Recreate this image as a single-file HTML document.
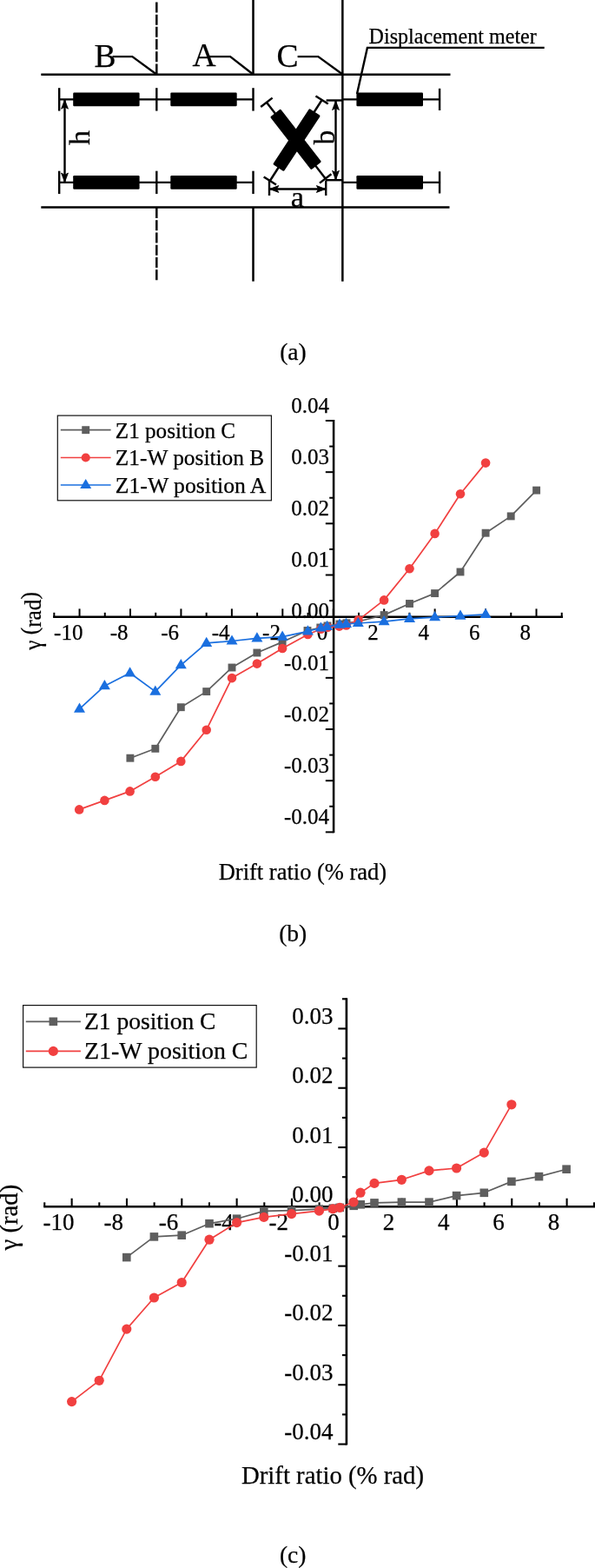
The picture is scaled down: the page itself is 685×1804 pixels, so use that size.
<!DOCTYPE html>
<html lang="en"><head><meta charset="utf-8"><title>Figure</title>
<style>html,body{margin:0;padding:0;background:#fff}svg{display:block}</style></head>
<body>
<svg width="685" height="1804" viewBox="0 0 685 1804" font-family="Liberation Serif, serif" fill="#000">
<style>text{stroke:#000;stroke-width:0.25px}</style>
<rect width="685" height="1804" fill="#fff"/>
<g id="diagram-a" stroke-linecap="butt">
<line x1="47.30" y1="85.80" x2="518.50" y2="85.80" stroke="#000" stroke-width="2.5" />
<line x1="47.30" y1="238.60" x2="517.50" y2="238.60" stroke="#000" stroke-width="2.5" />
<line x1="180.3" y1="2.4" x2="180.3" y2="85.8" stroke="#000" stroke-width="2.5" stroke-dasharray="12 2.23"/>
<line x1="180.3" y1="239" x2="180.3" y2="323.7" stroke="#000" stroke-width="2.5" stroke-dasharray="12 2.23"/>
<line x1="291.50" y1="0.00" x2="291.50" y2="86.00" stroke="#000" stroke-width="2.5" />
<line x1="291.50" y1="238.00" x2="291.50" y2="323.70" stroke="#000" stroke-width="2.5" />
<line x1="394.35" y1="0.00" x2="394.35" y2="323.70" stroke="#000" stroke-width="2.5" />
<line x1="68.20" y1="101.20" x2="68.20" y2="127.60" stroke="#000" stroke-width="2.4" />
<line x1="68.20" y1="114.40" x2="180.30" y2="114.40" stroke="#000" stroke-width="2.4" />
<rect x="84.2" y="106.60" width="76.4" height="15.7" rx="1.2" fill="#000"/>
<line x1="180.30" y1="101.20" x2="180.30" y2="127.60" stroke="#000" stroke-width="2.4" />
<line x1="180.30" y1="114.40" x2="291.50" y2="114.40" stroke="#000" stroke-width="2.4" />
<rect x="196.3" y="106.60" width="76.4" height="15.7" rx="1.2" fill="#000"/>
<line x1="291.50" y1="101.20" x2="291.50" y2="127.60" stroke="#000" stroke-width="2.4" />
<line x1="394.50" y1="114.40" x2="506.00" y2="114.40" stroke="#000" stroke-width="2.4" />
<rect x="410.4" y="106.60" width="76.6" height="15.7" rx="1.2" fill="#000"/>
<line x1="506.10" y1="101.80" x2="506.10" y2="127.00" stroke="#000" stroke-width="2.4" />
<line x1="68.20" y1="196.70" x2="68.20" y2="223.10" stroke="#000" stroke-width="2.4" />
<line x1="68.20" y1="209.90" x2="180.30" y2="209.90" stroke="#000" stroke-width="2.4" />
<rect x="84.2" y="202.10" width="76.4" height="15.7" rx="1.2" fill="#000"/>
<line x1="180.30" y1="196.70" x2="180.30" y2="223.10" stroke="#000" stroke-width="2.4" />
<line x1="180.30" y1="209.90" x2="291.50" y2="209.90" stroke="#000" stroke-width="2.4" />
<rect x="196.3" y="202.10" width="76.4" height="15.7" rx="1.2" fill="#000"/>
<line x1="291.50" y1="196.70" x2="291.50" y2="223.10" stroke="#000" stroke-width="2.4" />
<line x1="394.50" y1="209.90" x2="506.00" y2="209.90" stroke="#000" stroke-width="2.4" />
<rect x="410.4" y="202.10" width="76.6" height="15.7" rx="1.2" fill="#000"/>
<line x1="506.10" y1="197.30" x2="506.10" y2="222.50" stroke="#000" stroke-width="2.4" />
<line x1="74.50" y1="114.40" x2="74.50" y2="209.90" stroke="#000" stroke-width="2.4" />
<polygon points="74.50,114.90 70.60,125.20 74.50,122.90 78.40,125.20" fill="#000" stroke="#000" stroke-width="0.9" stroke-linejoin="miter"/>
<polygon points="74.50,209.40 70.60,199.10 74.50,201.40 78.40,199.10" fill="#000" stroke="#000" stroke-width="0.9" stroke-linejoin="miter"/>
<text transform="translate(102.6,158.6) rotate(-90)" font-size="34" text-anchor="middle">h</text>
<text x="108.40" y="76.50" font-size="37.5" text-anchor="start" >B</text>
<text x="221.60" y="76.30" font-size="37.5" text-anchor="start" >A</text>
<text x="318.60" y="76.60" font-size="37.5" text-anchor="start" >C</text>
<polyline points="129.5,65.1 152.3,65.1 179.8,85.3" fill="none" stroke="#000" stroke-width="2.4"/>
<polyline points="238.5,65.1 265.1,65.1 291,85.3" fill="none" stroke="#000" stroke-width="2.4"/>
<polyline points="342.6,65.1 366.3,65.1 394,85.3" fill="none" stroke="#000" stroke-width="2.4"/>
<text x="424.60" y="49.70" font-size="25" text-anchor="start" textLength="193.2" lengthAdjust="spacingAndGlyphs" >Displacement meter</text>
<polyline points="626.7,54.9 422.9,54.9 411,108" fill="none" stroke="#000" stroke-width="2.4"/>
<line x1="306.90" y1="117.80" x2="374.70" y2="205.40" stroke="#000" stroke-width="2.4" />
<rect x="302.03" y="152.80" width="77.03" height="15.2" rx="1.5" fill="#000" transform="rotate(52.12 340.55 160.40)"/>
<line x1="313.62" y1="112.60" x2="300.18" y2="123.00" stroke="#000" stroke-width="2.4" />
<line x1="381.42" y1="200.20" x2="367.98" y2="210.60" stroke="#000" stroke-width="2.4" />
<line x1="370.60" y1="115.00" x2="310.80" y2="208.00" stroke="#000" stroke-width="2.4" />
<rect x="303.13" y="153.45" width="76.74" height="15.2" rx="1.5" fill="#000" transform="rotate(123.36 341.50 161.05)"/>
<line x1="377.75" y1="119.60" x2="363.45" y2="110.40" stroke="#000" stroke-width="2.4" />
<line x1="317.95" y1="212.60" x2="303.65" y2="203.40" stroke="#000" stroke-width="2.4" />
<line x1="310.00" y1="217.50" x2="375.20" y2="217.50" stroke="#000" stroke-width="2.4" />
<line x1="310.00" y1="207.60" x2="310.00" y2="225.00" stroke="#000" stroke-width="2.4" />
<line x1="375.20" y1="207.60" x2="375.20" y2="225.00" stroke="#000" stroke-width="2.4" />
<polygon points="310.50,217.50 320.80,213.60 318.50,217.50 320.80,221.40" fill="#000" stroke="#000" stroke-width="0.9" stroke-linejoin="miter"/>
<polygon points="374.70,217.50 364.40,213.60 366.70,217.50 364.40,221.40" fill="#000" stroke="#000" stroke-width="0.9" stroke-linejoin="miter"/>
<text x="342.40" y="237.90" font-size="34.5" text-anchor="middle" >a</text>
<line x1="386.50" y1="115.70" x2="386.50" y2="207.20" stroke="#000" stroke-width="2.4" />
<polygon points="386.50,116.20 382.60,126.50 386.50,124.20 390.40,126.50" fill="#000" stroke="#000" stroke-width="0.9" stroke-linejoin="miter"/>
<polygon points="386.50,206.70 382.60,196.40 386.50,198.70 390.40,196.40" fill="#000" stroke="#000" stroke-width="0.9" stroke-linejoin="miter"/>
<line x1="375.60" y1="115.50" x2="394.50" y2="115.50" stroke="#000" stroke-width="2.4" />
<line x1="375.00" y1="207.20" x2="394.50" y2="207.20" stroke="#000" stroke-width="2.4" />
<text transform="translate(385.4,158) rotate(-90)" font-size="33" text-anchor="middle">b</text>
</g>
<text x="337.40" y="413.80" font-size="27.5" text-anchor="middle" >(a)</text>
<g id="chart-b">
<text x="78.75" y="735.60" font-size="25" text-anchor="middle" >-10</text>
<text x="137.19" y="735.60" font-size="25" text-anchor="middle" >-8</text>
<text x="195.63" y="735.60" font-size="25" text-anchor="middle" >-6</text>
<text x="254.07" y="735.60" font-size="25" text-anchor="middle" >-4</text>
<text x="312.51" y="735.60" font-size="25" text-anchor="middle" >-2</text>
<text x="370.95" y="735.60" font-size="25" text-anchor="middle" >0</text>
<text x="429.39" y="735.60" font-size="25" text-anchor="middle" >2</text>
<text x="487.83" y="735.60" font-size="25" text-anchor="middle" >4</text>
<text x="546.27" y="735.60" font-size="25" text-anchor="middle" >6</text>
<text x="604.71" y="735.60" font-size="25" text-anchor="middle" >8</text>
<text x="379.10" y="948.16" font-size="25" text-anchor="end" >-0.04</text>
<text x="379.10" y="888.99" font-size="25" text-anchor="end" >-0.03</text>
<text x="379.10" y="829.82" font-size="25" text-anchor="end" >-0.02</text>
<text x="379.10" y="770.65" font-size="25" text-anchor="end" >-0.01</text>
<text x="379.10" y="711.48" font-size="25" text-anchor="end" >0.00</text>
<text x="379.10" y="652.31" font-size="25" text-anchor="end" >0.01</text>
<text x="379.10" y="593.14" font-size="25" text-anchor="end" >0.02</text>
<text x="379.10" y="533.97" font-size="25" text-anchor="end" >0.03</text>
<text x="379.10" y="474.80" font-size="25" text-anchor="end" >0.04</text>
<line x1="61.10" y1="709.70" x2="648.00" y2="709.70" stroke="#000" stroke-width="2.5" />
<line x1="62.33" y1="709.70" x2="62.33" y2="704.80" stroke="#000" stroke-width="2.0" />
<line x1="91.55" y1="709.70" x2="91.55" y2="700.40" stroke="#000" stroke-width="2.0" />
<line x1="120.77" y1="709.70" x2="120.77" y2="704.80" stroke="#000" stroke-width="2.0" />
<line x1="149.99" y1="709.70" x2="149.99" y2="700.40" stroke="#000" stroke-width="2.0" />
<line x1="179.21" y1="709.70" x2="179.21" y2="704.80" stroke="#000" stroke-width="2.0" />
<line x1="208.43" y1="709.70" x2="208.43" y2="700.40" stroke="#000" stroke-width="2.0" />
<line x1="237.65" y1="709.70" x2="237.65" y2="704.80" stroke="#000" stroke-width="2.0" />
<line x1="266.87" y1="709.70" x2="266.87" y2="700.40" stroke="#000" stroke-width="2.0" />
<line x1="296.09" y1="709.70" x2="296.09" y2="704.80" stroke="#000" stroke-width="2.0" />
<line x1="325.31" y1="709.70" x2="325.31" y2="700.40" stroke="#000" stroke-width="2.0" />
<line x1="354.53" y1="709.70" x2="354.53" y2="704.80" stroke="#000" stroke-width="2.0" />
<line x1="383.75" y1="709.70" x2="383.75" y2="700.40" stroke="#000" stroke-width="2.0" />
<line x1="412.97" y1="709.70" x2="412.97" y2="704.80" stroke="#000" stroke-width="2.0" />
<line x1="442.19" y1="709.70" x2="442.19" y2="700.40" stroke="#000" stroke-width="2.0" />
<line x1="471.41" y1="709.70" x2="471.41" y2="704.80" stroke="#000" stroke-width="2.0" />
<line x1="500.63" y1="709.70" x2="500.63" y2="700.40" stroke="#000" stroke-width="2.0" />
<line x1="529.85" y1="709.70" x2="529.85" y2="704.80" stroke="#000" stroke-width="2.0" />
<line x1="559.07" y1="709.70" x2="559.07" y2="700.40" stroke="#000" stroke-width="2.0" />
<line x1="588.29" y1="709.70" x2="588.29" y2="704.80" stroke="#000" stroke-width="2.0" />
<line x1="617.51" y1="709.70" x2="617.51" y2="700.40" stroke="#000" stroke-width="2.0" />
<line x1="646.73" y1="709.70" x2="646.73" y2="704.80" stroke="#000" stroke-width="2.0" />
<line x1="384.10" y1="483.00" x2="384.10" y2="958.36" stroke="#000" stroke-width="2.5" />
<line x1="384.10" y1="957.36" x2="374.80" y2="957.36" stroke="#000" stroke-width="2.0" />
<line x1="384.10" y1="927.77" x2="379.20" y2="927.77" stroke="#000" stroke-width="2.0" />
<line x1="384.10" y1="898.19" x2="374.80" y2="898.19" stroke="#000" stroke-width="2.0" />
<line x1="384.10" y1="868.61" x2="379.20" y2="868.61" stroke="#000" stroke-width="2.0" />
<line x1="384.10" y1="839.02" x2="374.80" y2="839.02" stroke="#000" stroke-width="2.0" />
<line x1="384.10" y1="809.43" x2="379.20" y2="809.43" stroke="#000" stroke-width="2.0" />
<line x1="384.10" y1="779.85" x2="374.80" y2="779.85" stroke="#000" stroke-width="2.0" />
<line x1="384.10" y1="750.26" x2="379.20" y2="750.26" stroke="#000" stroke-width="2.0" />
<line x1="384.10" y1="720.68" x2="374.80" y2="720.68" stroke="#000" stroke-width="2.0" />
<line x1="384.10" y1="691.09" x2="379.20" y2="691.09" stroke="#000" stroke-width="2.0" />
<line x1="384.10" y1="661.51" x2="374.80" y2="661.51" stroke="#000" stroke-width="2.0" />
<line x1="384.10" y1="631.92" x2="379.20" y2="631.92" stroke="#000" stroke-width="2.0" />
<line x1="384.10" y1="602.34" x2="374.80" y2="602.34" stroke="#000" stroke-width="2.0" />
<line x1="384.10" y1="572.75" x2="379.20" y2="572.75" stroke="#000" stroke-width="2.0" />
<line x1="384.10" y1="543.17" x2="374.80" y2="543.17" stroke="#000" stroke-width="2.0" />
<line x1="384.10" y1="513.58" x2="379.20" y2="513.58" stroke="#000" stroke-width="2.0" />
<line x1="384.10" y1="484.00" x2="374.80" y2="484.00" stroke="#000" stroke-width="2.0" />
<polyline fill="none" stroke="#5e5e5e" stroke-width="1.7" stroke-linejoin="round" points="149.9,872.2 178.8,861.3 208.3,813.7 237.7,795.6 267.0,768.0 295.9,751.0 325.1,738.6 354.0,725.5 368.8,722.0 377.0,720.0 391.0,718.0 399.0,716.8 412.5,715.0 442.1,707.6 471.5,694.5 500.6,682.6 530.0,658.0 559.1,613.2 588.2,593.9 617.6,564.1"/>
<rect x="145.45" y="867.75" width="8.9" height="8.9" fill="#5e5e5e"/>
<rect x="174.35" y="856.85" width="8.9" height="8.9" fill="#5e5e5e"/>
<rect x="203.85" y="809.25" width="8.9" height="8.9" fill="#5e5e5e"/>
<rect x="233.25" y="791.15" width="8.9" height="8.9" fill="#5e5e5e"/>
<rect x="262.55" y="763.55" width="8.9" height="8.9" fill="#5e5e5e"/>
<rect x="291.45" y="746.55" width="8.9" height="8.9" fill="#5e5e5e"/>
<rect x="320.65" y="734.15" width="8.9" height="8.9" fill="#5e5e5e"/>
<rect x="349.55" y="721.05" width="8.9" height="8.9" fill="#5e5e5e"/>
<rect x="364.35" y="717.55" width="8.9" height="8.9" fill="#5e5e5e"/>
<rect x="372.55" y="715.55" width="8.9" height="8.9" fill="#5e5e5e"/>
<rect x="386.55" y="713.55" width="8.9" height="8.9" fill="#5e5e5e"/>
<rect x="394.55" y="712.35" width="8.9" height="8.9" fill="#5e5e5e"/>
<rect x="408.05" y="710.55" width="8.9" height="8.9" fill="#5e5e5e"/>
<rect x="437.65" y="703.15" width="8.9" height="8.9" fill="#5e5e5e"/>
<rect x="467.05" y="690.05" width="8.9" height="8.9" fill="#5e5e5e"/>
<rect x="496.15" y="678.15" width="8.9" height="8.9" fill="#5e5e5e"/>
<rect x="525.55" y="653.55" width="8.9" height="8.9" fill="#5e5e5e"/>
<rect x="554.65" y="608.75" width="8.9" height="8.9" fill="#5e5e5e"/>
<rect x="583.75" y="589.45" width="8.9" height="8.9" fill="#5e5e5e"/>
<rect x="613.15" y="559.65" width="8.9" height="8.9" fill="#5e5e5e"/>
<polyline fill="none" stroke="#F14040" stroke-width="1.7" stroke-linejoin="round" points="91.2,931.4 120.4,920.9 149.6,910.4 178.8,893.8 208.3,875.9 237.7,839.7 267.0,780.1 295.9,763.6 325.1,746.0 354.4,730.0 369.4,723.7 377.2,721.7 390.6,720.6 398.7,719.4 412.6,713.3 442.1,690.4 471.5,654.2 500.6,613.9 530.0,568.3 559.1,532.6"/>
<circle cx="91.20" cy="931.40" r="5.3" fill="#F14040"/>
<circle cx="120.40" cy="920.90" r="5.3" fill="#F14040"/>
<circle cx="149.60" cy="910.40" r="5.3" fill="#F14040"/>
<circle cx="178.80" cy="893.80" r="5.3" fill="#F14040"/>
<circle cx="208.30" cy="875.90" r="5.3" fill="#F14040"/>
<circle cx="237.70" cy="839.70" r="5.3" fill="#F14040"/>
<circle cx="267.00" cy="780.10" r="5.3" fill="#F14040"/>
<circle cx="295.90" cy="763.60" r="5.3" fill="#F14040"/>
<circle cx="325.10" cy="746.00" r="5.3" fill="#F14040"/>
<circle cx="354.40" cy="730.00" r="5.3" fill="#F14040"/>
<circle cx="369.40" cy="723.70" r="5.3" fill="#F14040"/>
<circle cx="377.20" cy="721.70" r="5.3" fill="#F14040"/>
<circle cx="390.60" cy="720.60" r="5.3" fill="#F14040"/>
<circle cx="398.70" cy="719.40" r="5.3" fill="#F14040"/>
<circle cx="412.60" cy="713.30" r="5.3" fill="#F14040"/>
<circle cx="442.10" cy="690.40" r="5.3" fill="#F14040"/>
<circle cx="471.50" cy="654.20" r="5.3" fill="#F14040"/>
<circle cx="500.60" cy="613.90" r="5.3" fill="#F14040"/>
<circle cx="530.00" cy="568.30" r="5.3" fill="#F14040"/>
<circle cx="559.10" cy="532.60" r="5.3" fill="#F14040"/>
<polyline fill="none" stroke="#1A6FDF" stroke-width="1.7" stroke-linejoin="round" points="91.5,815.7 120.4,789.2 149.6,774.3 178.8,795.6 208.3,765.2 237.7,739.9 267.0,737.5 295.9,734.3 325.1,732.7 354.4,726.3 369.4,722.5 376.6,720.8 391.0,718.7 398.5,717.9 412.3,717.0 442.1,715.2 471.5,711.9 500.6,710.1 530.0,708.7 559.1,706.9"/>
<polygon points="91.50,808.60 85.00,819.80 98.00,819.80" fill="#1A6FDF"/>
<polygon points="120.40,782.10 113.90,793.30 126.90,793.30" fill="#1A6FDF"/>
<polygon points="149.60,767.20 143.10,778.40 156.10,778.40" fill="#1A6FDF"/>
<polygon points="178.80,788.50 172.30,799.70 185.30,799.70" fill="#1A6FDF"/>
<polygon points="208.30,758.10 201.80,769.30 214.80,769.30" fill="#1A6FDF"/>
<polygon points="237.70,732.80 231.20,744.00 244.20,744.00" fill="#1A6FDF"/>
<polygon points="267.00,730.40 260.50,741.60 273.50,741.60" fill="#1A6FDF"/>
<polygon points="295.90,727.20 289.40,738.40 302.40,738.40" fill="#1A6FDF"/>
<polygon points="325.10,725.60 318.60,736.80 331.60,736.80" fill="#1A6FDF"/>
<polygon points="354.40,719.20 347.90,730.40 360.90,730.40" fill="#1A6FDF"/>
<polygon points="369.40,715.40 362.90,726.60 375.90,726.60" fill="#1A6FDF"/>
<polygon points="376.60,713.70 370.10,724.90 383.10,724.90" fill="#1A6FDF"/>
<polygon points="391.00,711.60 384.50,722.80 397.50,722.80" fill="#1A6FDF"/>
<polygon points="398.50,710.80 392.00,722.00 405.00,722.00" fill="#1A6FDF"/>
<polygon points="412.30,709.90 405.80,721.10 418.80,721.10" fill="#1A6FDF"/>
<polygon points="442.10,708.10 435.60,719.30 448.60,719.30" fill="#1A6FDF"/>
<polygon points="471.50,704.80 465.00,716.00 478.00,716.00" fill="#1A6FDF"/>
<polygon points="500.60,703.00 494.10,714.20 507.10,714.20" fill="#1A6FDF"/>
<polygon points="530.00,701.60 523.50,712.80 536.50,712.80" fill="#1A6FDF"/>
<polygon points="559.10,699.80 552.60,711.00 565.60,711.00" fill="#1A6FDF"/>
<rect x="66.3" y="478.1" width="246.1" height="97.7" fill="#fff" stroke="#111" stroke-width="1.2"/>
<line x1="69.80" y1="494.70" x2="127.60" y2="494.70" stroke="#5e5e5e" stroke-width="1.7" />
<rect x="94.25" y="490.25" width="8.9" height="8.9" fill="#5e5e5e"/>
<text x="132.80" y="503.50" font-size="25" text-anchor="start" textLength="138.3" lengthAdjust="spacingAndGlyphs" >Z1 position C</text>
<line x1="69.80" y1="526.50" x2="127.60" y2="526.50" stroke="#F14040" stroke-width="1.7" />
<circle cx="98.70" cy="526.50" r="5.1" fill="#F14040"/>
<text x="132.80" y="535.30" font-size="25" text-anchor="start" textLength="171.3" lengthAdjust="spacingAndGlyphs" >Z1-W position B</text>
<line x1="69.80" y1="558.00" x2="127.60" y2="558.00" stroke="#1A6FDF" stroke-width="1.7" />
<polygon points="98.70,550.90 92.20,562.10 105.20,562.10" fill="#1A6FDF"/>
<text x="132.80" y="566.70" font-size="25" text-anchor="start" textLength="173.6" lengthAdjust="spacingAndGlyphs" >Z1-W position A</text>
<text x="251.70" y="1011.90" font-size="26.5" text-anchor="start" textLength="193.5" lengthAdjust="spacingAndGlyphs" >Drift ratio (% rad)</text>
<text transform="translate(47.0,714.4) rotate(-90)" font-size="27" text-anchor="middle" textLength="66.6" lengthAdjust="spacingAndGlyphs">γ <tspan dy="-3.8">(</tspan><tspan dy="3.8">rad</tspan><tspan dy="-3.8">)</tspan></text>
<text x="337.20" y="1082.60" font-size="27.5" text-anchor="middle" >(b)</text>
</g>
<g id="chart-c">
<text x="67.44" y="1414.90" font-size="27" text-anchor="middle" >-10</text>
<text x="130.77" y="1414.90" font-size="27" text-anchor="middle" >-8</text>
<text x="194.10" y="1414.90" font-size="27" text-anchor="middle" >-6</text>
<text x="257.42" y="1414.90" font-size="27" text-anchor="middle" >-4</text>
<text x="320.75" y="1414.90" font-size="27" text-anchor="middle" >-2</text>
<text x="384.08" y="1414.90" font-size="27" text-anchor="middle" >0</text>
<text x="447.41" y="1414.90" font-size="27" text-anchor="middle" >2</text>
<text x="510.74" y="1414.90" font-size="27" text-anchor="middle" >4</text>
<text x="574.06" y="1414.90" font-size="27" text-anchor="middle" >6</text>
<text x="637.39" y="1414.90" font-size="27" text-anchor="middle" >8</text>
<text x="383.50" y="1656.05" font-size="27" text-anchor="end" >-0.04</text>
<text x="383.50" y="1587.75" font-size="27" text-anchor="end" >-0.03</text>
<text x="383.50" y="1519.45" font-size="27" text-anchor="end" >-0.02</text>
<text x="383.50" y="1451.15" font-size="27" text-anchor="end" >-0.01</text>
<text x="383.50" y="1382.85" font-size="27" text-anchor="end" >0.00</text>
<text x="383.50" y="1314.55" font-size="27" text-anchor="end" >0.01</text>
<text x="383.50" y="1246.25" font-size="27" text-anchor="end" >0.02</text>
<text x="383.50" y="1177.95" font-size="27" text-anchor="end" >0.03</text>
<line x1="50.20" y1="1388.30" x2="685.00" y2="1388.30" stroke="#000" stroke-width="2.6" />
<line x1="51.25" y1="1388.30" x2="51.25" y2="1383.30" stroke="#000" stroke-width="2.1" />
<line x1="82.64" y1="1388.30" x2="82.64" y2="1378.70" stroke="#000" stroke-width="2.1" />
<line x1="114.30" y1="1388.30" x2="114.30" y2="1383.30" stroke="#000" stroke-width="2.1" />
<line x1="145.97" y1="1388.30" x2="145.97" y2="1378.70" stroke="#000" stroke-width="2.1" />
<line x1="177.63" y1="1388.30" x2="177.63" y2="1383.30" stroke="#000" stroke-width="2.1" />
<line x1="209.30" y1="1388.30" x2="209.30" y2="1378.70" stroke="#000" stroke-width="2.1" />
<line x1="240.96" y1="1388.30" x2="240.96" y2="1383.30" stroke="#000" stroke-width="2.1" />
<line x1="272.62" y1="1388.30" x2="272.62" y2="1378.70" stroke="#000" stroke-width="2.1" />
<line x1="304.29" y1="1388.30" x2="304.29" y2="1383.30" stroke="#000" stroke-width="2.1" />
<line x1="335.95" y1="1388.30" x2="335.95" y2="1378.70" stroke="#000" stroke-width="2.1" />
<line x1="367.62" y1="1388.30" x2="367.62" y2="1383.30" stroke="#000" stroke-width="2.1" />
<line x1="399.28" y1="1388.30" x2="399.28" y2="1378.70" stroke="#000" stroke-width="2.1" />
<line x1="430.94" y1="1388.30" x2="430.94" y2="1383.30" stroke="#000" stroke-width="2.1" />
<line x1="462.61" y1="1388.30" x2="462.61" y2="1378.70" stroke="#000" stroke-width="2.1" />
<line x1="494.27" y1="1388.30" x2="494.27" y2="1383.30" stroke="#000" stroke-width="2.1" />
<line x1="525.94" y1="1388.30" x2="525.94" y2="1378.70" stroke="#000" stroke-width="2.1" />
<line x1="557.60" y1="1388.30" x2="557.60" y2="1383.30" stroke="#000" stroke-width="2.1" />
<line x1="589.26" y1="1388.30" x2="589.26" y2="1378.70" stroke="#000" stroke-width="2.1" />
<line x1="620.93" y1="1388.30" x2="620.93" y2="1383.30" stroke="#000" stroke-width="2.1" />
<line x1="652.59" y1="1388.30" x2="652.59" y2="1378.70" stroke="#000" stroke-width="2.1" />
<line x1="683.95" y1="1388.30" x2="683.95" y2="1383.30" stroke="#000" stroke-width="2.1" />
<line x1="398.90" y1="1148.25" x2="398.90" y2="1662.60" stroke="#000" stroke-width="2.6" />
<line x1="398.90" y1="1661.55" x2="389.30" y2="1661.55" stroke="#000" stroke-width="2.1" />
<line x1="398.90" y1="1627.40" x2="393.90" y2="1627.40" stroke="#000" stroke-width="2.1" />
<line x1="398.90" y1="1593.25" x2="389.30" y2="1593.25" stroke="#000" stroke-width="2.1" />
<line x1="398.90" y1="1559.10" x2="393.90" y2="1559.10" stroke="#000" stroke-width="2.1" />
<line x1="398.90" y1="1524.95" x2="389.30" y2="1524.95" stroke="#000" stroke-width="2.1" />
<line x1="398.90" y1="1490.80" x2="393.90" y2="1490.80" stroke="#000" stroke-width="2.1" />
<line x1="398.90" y1="1456.65" x2="389.30" y2="1456.65" stroke="#000" stroke-width="2.1" />
<line x1="398.90" y1="1422.50" x2="393.90" y2="1422.50" stroke="#000" stroke-width="2.1" />
<line x1="398.90" y1="1388.35" x2="389.30" y2="1388.35" stroke="#000" stroke-width="2.1" />
<line x1="398.90" y1="1354.20" x2="393.90" y2="1354.20" stroke="#000" stroke-width="2.1" />
<line x1="398.90" y1="1320.05" x2="389.30" y2="1320.05" stroke="#000" stroke-width="2.1" />
<line x1="398.90" y1="1285.90" x2="393.90" y2="1285.90" stroke="#000" stroke-width="2.1" />
<line x1="398.90" y1="1251.75" x2="389.30" y2="1251.75" stroke="#000" stroke-width="2.1" />
<line x1="398.90" y1="1217.60" x2="393.90" y2="1217.60" stroke="#000" stroke-width="2.1" />
<line x1="398.90" y1="1183.45" x2="389.30" y2="1183.45" stroke="#000" stroke-width="2.1" />
<line x1="398.90" y1="1149.30" x2="393.90" y2="1149.30" stroke="#000" stroke-width="2.1" />
<polyline fill="none" stroke="#5e5e5e" stroke-width="1.7" stroke-linejoin="round" points="145.8,1446.6 177.4,1422.9 209.2,1421.2 241.0,1407.7 272.6,1402.2 303.8,1393.4 335.6,1392.6 367.4,1391.1 383.2,1390.2 391.2,1389.4 407.2,1387.3 415.2,1385.8 431.0,1383.9 462.4,1383.1 494.0,1383.1 525.6,1375.6 557.3,1372.3 588.9,1359.4 620.5,1353.6 652.1,1345.2"/>
<rect x="141.00" y="1441.80" width="9.6" height="9.6" fill="#5e5e5e"/>
<rect x="172.60" y="1418.10" width="9.6" height="9.6" fill="#5e5e5e"/>
<rect x="204.40" y="1416.40" width="9.6" height="9.6" fill="#5e5e5e"/>
<rect x="236.20" y="1402.90" width="9.6" height="9.6" fill="#5e5e5e"/>
<rect x="267.80" y="1397.40" width="9.6" height="9.6" fill="#5e5e5e"/>
<rect x="299.00" y="1388.60" width="9.6" height="9.6" fill="#5e5e5e"/>
<rect x="330.80" y="1387.80" width="9.6" height="9.6" fill="#5e5e5e"/>
<rect x="362.60" y="1386.30" width="9.6" height="9.6" fill="#5e5e5e"/>
<rect x="378.40" y="1385.40" width="9.6" height="9.6" fill="#5e5e5e"/>
<rect x="386.40" y="1384.60" width="9.6" height="9.6" fill="#5e5e5e"/>
<rect x="402.40" y="1382.50" width="9.6" height="9.6" fill="#5e5e5e"/>
<rect x="410.40" y="1381.00" width="9.6" height="9.6" fill="#5e5e5e"/>
<rect x="426.20" y="1379.10" width="9.6" height="9.6" fill="#5e5e5e"/>
<rect x="457.60" y="1378.30" width="9.6" height="9.6" fill="#5e5e5e"/>
<rect x="489.20" y="1378.30" width="9.6" height="9.6" fill="#5e5e5e"/>
<rect x="520.80" y="1370.80" width="9.6" height="9.6" fill="#5e5e5e"/>
<rect x="552.50" y="1367.50" width="9.6" height="9.6" fill="#5e5e5e"/>
<rect x="584.10" y="1354.60" width="9.6" height="9.6" fill="#5e5e5e"/>
<rect x="615.70" y="1348.80" width="9.6" height="9.6" fill="#5e5e5e"/>
<rect x="647.30" y="1340.40" width="9.6" height="9.6" fill="#5e5e5e"/>
<polyline fill="none" stroke="#F14040" stroke-width="1.7" stroke-linejoin="round" points="82.6,1612.6 114.2,1588.3 145.8,1529.1 177.4,1493.0 209.2,1475.5 241.0,1426.2 272.6,1406.6 303.8,1400.4 335.6,1396.6 367.4,1393.1 383.2,1390.9 391.2,1389.3 407.0,1383.0 415.0,1372.2 431.0,1361.4 462.4,1357.3 494.0,1346.9 525.6,1344.0 557.3,1326.1 588.9,1270.8"/>
<circle cx="82.60" cy="1612.60" r="5.6" fill="#F14040"/>
<circle cx="114.20" cy="1588.30" r="5.6" fill="#F14040"/>
<circle cx="145.80" cy="1529.10" r="5.6" fill="#F14040"/>
<circle cx="177.40" cy="1493.00" r="5.6" fill="#F14040"/>
<circle cx="209.20" cy="1475.50" r="5.6" fill="#F14040"/>
<circle cx="241.00" cy="1426.20" r="5.6" fill="#F14040"/>
<circle cx="272.60" cy="1406.60" r="5.6" fill="#F14040"/>
<circle cx="303.80" cy="1400.40" r="5.6" fill="#F14040"/>
<circle cx="335.60" cy="1396.60" r="5.6" fill="#F14040"/>
<circle cx="367.40" cy="1393.10" r="5.6" fill="#F14040"/>
<circle cx="383.20" cy="1390.90" r="5.6" fill="#F14040"/>
<circle cx="391.20" cy="1389.30" r="5.6" fill="#F14040"/>
<circle cx="407.00" cy="1383.00" r="5.6" fill="#F14040"/>
<circle cx="415.00" cy="1372.20" r="5.6" fill="#F14040"/>
<circle cx="431.00" cy="1361.40" r="5.6" fill="#F14040"/>
<circle cx="462.40" cy="1357.30" r="5.6" fill="#F14040"/>
<circle cx="494.00" cy="1346.90" r="5.6" fill="#F14040"/>
<circle cx="525.60" cy="1344.00" r="5.6" fill="#F14040"/>
<circle cx="557.30" cy="1326.10" r="5.6" fill="#F14040"/>
<circle cx="588.90" cy="1270.80" r="5.6" fill="#F14040"/>
<rect x="26.6" y="1156.6" width="268.6" height="71.5" fill="#fff" stroke="#111" stroke-width="1.2"/>
<line x1="29.80" y1="1175.30" x2="92.90" y2="1175.30" stroke="#5e5e5e" stroke-width="1.7" />
<rect x="56.55" y="1170.50" width="9.6" height="9.6" fill="#5e5e5e"/>
<text x="96.90" y="1183.70" font-size="27.2" text-anchor="start" textLength="151.6" lengthAdjust="spacingAndGlyphs" >Z1 position C</text>
<line x1="29.80" y1="1209.40" x2="92.90" y2="1209.40" stroke="#F14040" stroke-width="1.7" />
<circle cx="61.35" cy="1209.40" r="5.6" fill="#F14040"/>
<text x="96.90" y="1217.80" font-size="27.2" text-anchor="start" textLength="188.6" lengthAdjust="spacingAndGlyphs" >Z1-W position C</text>
<text x="278.00" y="1706.80" font-size="28.7" text-anchor="start" textLength="210.0" lengthAdjust="spacingAndGlyphs" >Drift ratio (% rad)</text>
<text transform="translate(20.4,1400.6) rotate(-90)" font-size="29.2" text-anchor="middle" textLength="75.8" lengthAdjust="spacingAndGlyphs">γ <tspan dy="0">(</tspan><tspan dy="0">rad</tspan><tspan dy="0">)</tspan></text>
<text x="337.20" y="1798.30" font-size="27.5" text-anchor="middle" >(c)</text>
</g>
</svg>
</body></html>
